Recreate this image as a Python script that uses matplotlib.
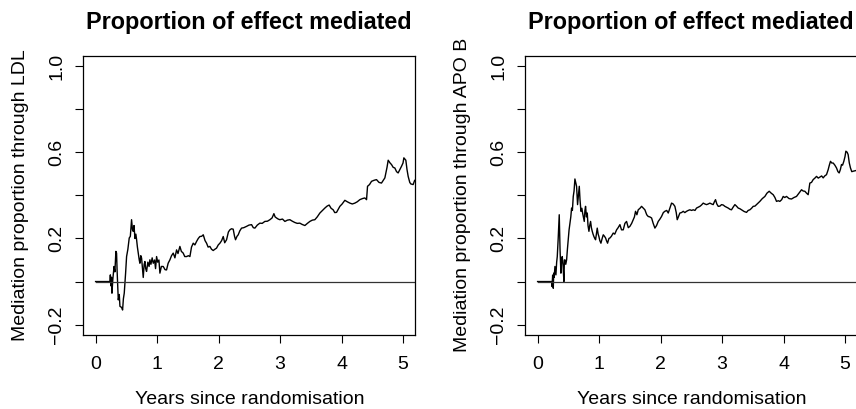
import matplotlib
matplotlib.use('Agg')
import matplotlib.pyplot as plt

plt.rcParams['font.family'] = ['Liberation Sans', 'DejaVu Sans']

title = "Proportion of effect mediated"
xlabel = "Years since randomisation"
ylabel_ldl = "Mediation proportion through LDL"
ylabel_apob = "Mediation proportion through APO B"
xticks = [0, 1, 2, 3, 4, 5]
yticks = [-0.2, 0.0, 0.2, 0.4, 0.6, 0.8, 1.0]
ytick_labels = ["\u22120.2", "", "0.2", "", "0.6", "", "1.0"]

ldl_years = [0.000, 0.233, 0.240, 0.249, 0.258, 0.266, 0.280, 0.300, 0.314, 0.330, 0.341, 0.350,
             0.369, 0.385, 0.396, 0.423, 0.439, 0.452, 0.466, 0.488, 0.504, 0.525, 0.547, 0.565,
             0.585, 0.600, 0.612, 0.625, 0.640, 0.655, 0.667, 0.680, 0.694, 0.710, 0.721, 0.735,
             0.748, 0.760, 0.775, 0.790, 0.802, 0.815, 0.829, 0.850, 0.870, 0.883, 0.900, 0.920,
             0.938, 0.960, 0.975, 0.992, 1.010, 1.030, 1.046, 1.070, 1.100, 1.130, 1.154, 1.180,
             1.209, 1.235, 1.263, 1.290, 1.317, 1.340, 1.371, 1.395, 1.425, 1.450, 1.480, 1.510,
             1.534, 1.560, 1.588, 1.615, 1.642, 1.670, 1.696, 1.725, 1.751, 1.780, 1.805, 1.830,
             1.859, 1.885, 1.913, 1.940, 1.967, 1.995, 2.022, 2.050, 2.076, 2.100, 2.130, 2.160,
             2.184, 2.210, 2.238, 2.260, 2.276, 2.300, 2.320, 2.345, 2.374, 2.410, 2.455, 2.495,
             2.537, 2.565, 2.591, 2.630, 2.672, 2.710, 2.753, 2.795, 2.835, 2.870, 2.900, 2.920,
             2.943, 2.970, 2.997, 3.040, 3.079, 3.120, 3.160, 3.200, 3.241, 3.280, 3.322, 3.360,
             3.404, 3.445, 3.485, 3.525, 3.566, 3.605, 3.648, 3.690, 3.729, 3.765, 3.799, 3.830,
             3.864, 3.890, 3.919, 3.945, 3.973, 4.010, 4.054, 4.095, 4.136, 4.175, 4.217, 4.255,
             4.298, 4.340, 4.379, 4.407, 4.423, 4.455, 4.488, 4.530, 4.569, 4.610, 4.650, 4.680,
             4.705, 4.721, 4.740, 4.759, 4.790, 4.813, 4.840, 4.867, 4.895, 4.921, 4.950, 4.976,
             5.000, 5.014, 5.046, 5.065, 5.084, 5.110, 5.127, 5.165, 5.190, 5.220]
ldl_prop = [0.0, 0.0, 0.031, -0.020, 0.020, -0.054, 0.010, 0.070, 0.045, 0.140, 0.132, 0.050,
            -0.085, -0.060, -0.115, -0.120, -0.132, -0.080, -0.054, 0.039, 0.116, 0.150, 0.202, 0.210,
            0.287, 0.240, 0.233, 0.260, 0.200, 0.220, 0.194, 0.160, 0.132, 0.100, 0.085, 0.120,
            0.109, 0.070, 0.019, 0.080, 0.093, 0.060, 0.047, 0.090, 0.070, 0.101, 0.080, 0.110,
            0.085, 0.100, 0.060, 0.116, 0.090, 0.100, 0.039, 0.070, 0.070, 0.055, 0.054, 0.085,
            0.101, 0.120, 0.132, 0.110, 0.147, 0.130, 0.163, 0.140, 0.132, 0.116, 0.116, 0.120,
            0.116, 0.160, 0.178, 0.170, 0.186, 0.200, 0.209, 0.210, 0.217, 0.190, 0.178, 0.160,
            0.163, 0.150, 0.144, 0.150, 0.155, 0.170, 0.178, 0.190, 0.209, 0.180, 0.194, 0.230,
            0.240, 0.245, 0.243, 0.210, 0.194, 0.210, 0.217, 0.235, 0.248, 0.250, 0.256, 0.262,
            0.264, 0.250, 0.248, 0.262, 0.271, 0.270, 0.279, 0.280, 0.287, 0.295, 0.315, 0.300,
            0.295, 0.290, 0.287, 0.290, 0.279, 0.285, 0.287, 0.280, 0.274, 0.270, 0.271, 0.265,
            0.260, 0.270, 0.279, 0.285, 0.287, 0.300, 0.318, 0.330, 0.341, 0.350, 0.355, 0.340,
            0.333, 0.320, 0.321, 0.335, 0.349, 0.360, 0.377, 0.370, 0.364, 0.360, 0.364, 0.370,
            0.380, 0.385, 0.388, 0.380, 0.442, 0.450, 0.465, 0.470, 0.473, 0.460, 0.457, 0.470,
            0.481, 0.504, 0.530, 0.563, 0.550, 0.543, 0.530, 0.527, 0.510, 0.504, 0.520, 0.535,
            0.550, 0.574, 0.563, 0.520, 0.488, 0.460, 0.453, 0.450, 0.470, 0.470]

apob_years = [0.000, 0.228, 0.235, 0.245, 0.255, 0.262, 0.270, 0.282, 0.298, 0.310, 0.320, 0.335,
              0.352, 0.365, 0.379, 0.390, 0.401, 0.415, 0.428, 0.436, 0.444, 0.458, 0.472, 0.485,
              0.499, 0.512, 0.526, 0.540, 0.553, 0.566, 0.580, 0.593, 0.607, 0.620, 0.634, 0.645,
              0.650, 0.665, 0.678, 0.690, 0.705, 0.720, 0.732, 0.745, 0.759, 0.770, 0.780, 0.795,
              0.808, 0.820, 0.835, 0.848, 0.862, 0.875, 0.889, 0.902, 0.916, 0.930, 0.943, 0.956,
              0.970, 0.985, 0.997, 1.012, 1.030, 1.050, 1.068, 1.088, 1.106, 1.120, 1.138, 1.160,
              1.176, 1.200, 1.230, 1.255, 1.285, 1.310, 1.339, 1.365, 1.393, 1.420, 1.447, 1.475,
              1.501, 1.530, 1.556, 1.575, 1.593, 1.615, 1.637, 1.665, 1.691, 1.720, 1.745, 1.775,
              1.799, 1.825, 1.854, 1.880, 1.908, 1.935, 1.962, 1.990, 2.016, 2.045, 2.070, 2.100,
              2.125, 2.150, 2.179, 2.205, 2.233, 2.255, 2.271, 2.290, 2.314, 2.340, 2.369, 2.395,
              2.423, 2.450, 2.477, 2.505, 2.531, 2.560, 2.585, 2.612, 2.640, 2.665, 2.694, 2.720,
              2.748, 2.775, 2.802, 2.830, 2.856, 2.875, 2.894, 2.915, 2.938, 2.965, 2.992, 3.020,
              3.046, 3.075, 3.100, 3.130, 3.154, 3.180, 3.209, 3.235, 3.263, 3.290, 3.317, 3.360,
              3.398, 3.425, 3.453, 3.480, 3.507, 3.535, 3.561, 3.590, 3.615, 3.655, 3.697, 3.730,
              3.767, 3.800, 3.832, 3.860, 3.886, 3.915, 3.940, 3.970, 3.995, 4.020, 4.049, 4.090,
              4.130, 4.170, 4.211, 4.250, 4.293, 4.320, 4.347, 4.375, 4.401, 4.428, 4.455, 4.482,
              4.510, 4.537, 4.565, 4.591, 4.620, 4.645, 4.670, 4.699, 4.726, 4.745, 4.764, 4.785,
              4.808, 4.835, 4.862, 4.885, 4.905, 4.925, 4.943, 4.960, 4.981, 5.000, 5.014, 5.035,
              5.051, 5.070, 5.089, 5.110, 5.133, 5.176, 5.220]
apob_prop = [0.0, 0.0, -0.023, 0.030, -0.031, 0.039, 0.020, 0.070, 0.031, 0.090, 0.116, 0.200,
             0.310, 0.150, 0.039, 0.100, 0.116, 0.070, 0.000, 0.100, 0.101, 0.080, 0.101, 0.150,
             0.194, 0.240, 0.271, 0.300, 0.341, 0.330, 0.395, 0.420, 0.476, 0.460, 0.442, 0.380,
             0.357, 0.400, 0.442, 0.380, 0.326, 0.340, 0.318, 0.300, 0.279, 0.330, 0.349, 0.300,
             0.318, 0.260, 0.233, 0.260, 0.279, 0.250, 0.233, 0.220, 0.209, 0.200, 0.194, 0.220,
             0.248, 0.220, 0.209, 0.190, 0.178, 0.200, 0.217, 0.210, 0.202, 0.190, 0.178, 0.200,
             0.202, 0.210, 0.225, 0.220, 0.240, 0.250, 0.264, 0.240, 0.240, 0.270, 0.279, 0.250,
             0.256, 0.270, 0.287, 0.300, 0.326, 0.310, 0.333, 0.340, 0.349, 0.340, 0.333, 0.310,
             0.302, 0.300, 0.295, 0.270, 0.248, 0.260, 0.279, 0.290, 0.302, 0.320, 0.326, 0.330,
             0.318, 0.340, 0.364, 0.360, 0.349, 0.320, 0.287, 0.300, 0.318, 0.320, 0.326, 0.320,
             0.326, 0.330, 0.333, 0.330, 0.333, 0.330, 0.341, 0.345, 0.349, 0.355, 0.364, 0.360,
             0.357, 0.360, 0.364, 0.360, 0.357, 0.370, 0.380, 0.360, 0.349, 0.350, 0.357, 0.355,
             0.349, 0.345, 0.341, 0.335, 0.333, 0.345, 0.357, 0.350, 0.341, 0.338, 0.333, 0.325,
             0.321, 0.330, 0.333, 0.340, 0.349, 0.350, 0.357, 0.365, 0.372, 0.385, 0.395, 0.410,
             0.419, 0.410, 0.403, 0.390, 0.372, 0.375, 0.372, 0.380, 0.395, 0.390, 0.395, 0.385,
             0.383, 0.390, 0.395, 0.410, 0.426, 0.420, 0.419, 0.410, 0.403, 0.457, 0.460, 0.473,
             0.480, 0.488, 0.480, 0.485, 0.490, 0.481, 0.490, 0.496, 0.519, 0.540, 0.558, 0.550,
             0.550, 0.540, 0.527, 0.510, 0.504, 0.520, 0.543, 0.540, 0.558, 0.580, 0.605, 0.600,
             0.589, 0.550, 0.527, 0.510, 0.512, 0.515, 0.515]

W, H = 856, 409
fig = plt.figure(figsize=(W / 100, H / 100), dpi=100)

panels = [
    (83.3, ldl_years, ldl_prop, ylabel_ldl),
    (525.3, apob_years, apob_prop, ylabel_apob),
]
pw, ptop, pbot = 332.0, 55.7, 335.0

for left_px, xs, ys, ylab in panels:
    ax = fig.add_axes([left_px / W, 1 - pbot / H, pw / W, (pbot - ptop) / H])
    ax.plot(xs, ys, color='black', lw=1.0)
    ax.plot([0, 5.3], [0, 0], color='#333333', lw=0.9)
    ax.set_xlim(-0.2, 5.2)
    ax.set_ylim(-0.248, 1.048)
    ax.set_xticks(xticks)
    ax.set_xticklabels([str(t) for t in xticks])
    ax.set_yticks(yticks)
    ax.set_yticklabels(ytick_labels, rotation=90, va='center')
    ax.tick_params(axis='both', direction='out', length=6, width=0.8,
                   labelsize=14, colors='black')
    ax.tick_params(axis='x', pad=9)
    ax.tick_params(axis='y', pad=7)
    for s in ax.spines.values():
        s.set_linewidth(0.9)
    ax.set_title(title, fontsize=16.8, fontweight='bold', pad=19)
    ax.set_xlabel(xlabel, fontsize=14, labelpad=13)
    ax.set_ylabel(ylab, fontsize=14, labelpad=14)

fig.savefig('out.png', dpi=100)
